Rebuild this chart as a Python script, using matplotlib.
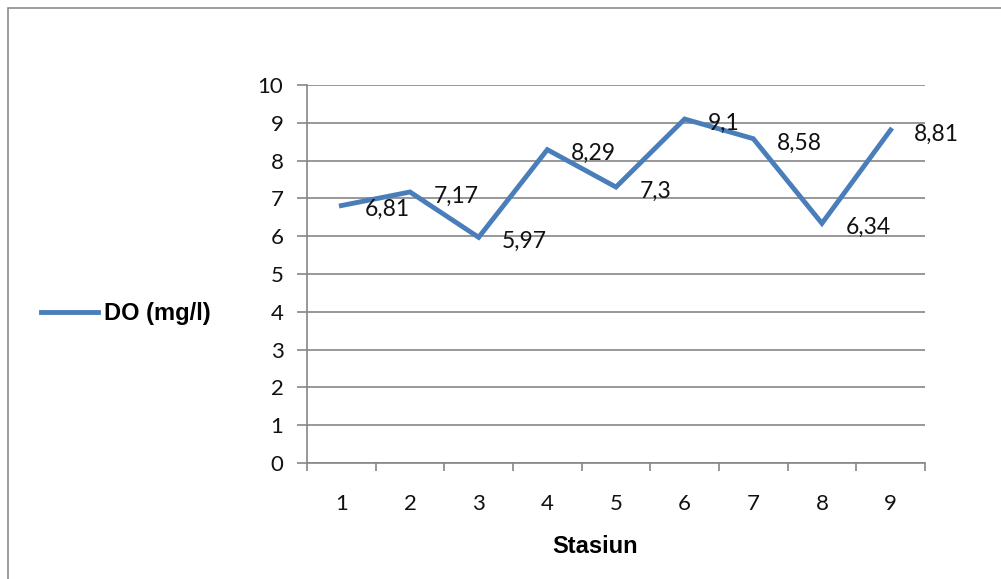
import matplotlib
matplotlib.use('Agg')
import matplotlib.pyplot as plt
from matplotlib.patches import Rectangle

# data DO per stasiun
stasiun = ['1', '2', '3', '4', '5', '6', '7', '8', '9']
do_mg_l = [6.81, 7.17, 5.97, 8.29, 7.3, 9.1, 8.58, 6.34, 8.81]
do_label = ['6,81', '7,17', '5,97', '8,29', '7,3', '9,1', '8,58', '6,34', '8,81']

plt.rcParams['font.family'] = ['Lato', 'DejaVu Sans']

fig = plt.figure(figsize=(10.01, 5.79), dpi=100)
ax = fig.add_axes([0.3067, 0.2003, 0.6173, 0.6529])

# bingkai chart
fig.patches.append(Rectangle((0.008, -0.1), 1.1, 1.086, transform=fig.transFigure,
                             fill=False, edgecolor='#8c8c8c', linewidth=1.2))

x = range(len(stasiun))
line, = ax.plot(x, do_mg_l, color='#4a7ebb', linewidth=3.5, solid_joinstyle='miter',
                label='DO (mg/l)')

for i, (v, s) in enumerate(zip(do_mg_l, do_label)):
    ax.annotate(s, (i, v), xytext=(17, -3), textcoords='offset points',
                ha='left', va='center', fontsize=16.5, color='#111111')

ax.set_xlim(-0.5, len(stasiun) - 0.5)
ax.set_ylim(0, 10)
ax.set_yticks(range(0, 11))
ax.set_xticks(x)
ax.set_xticklabels(stasiun)
ax.set_xticks([i - 0.5 for i in range(len(stasiun) + 1)], minor=True)
ax.tick_params(axis='x', which='major', length=0, pad=22, labelsize=16, labelcolor='#111111')
ax.tick_params(axis='x', which='minor', length=6, color='#868686', width=1.2, direction='out')
ax.tick_params(axis='y', length=7, color='#868686', width=1.2, pad=10, labelsize=16,
               labelcolor='#111111')
ax.grid(axis='y', color='#868686', linewidth=1.2)
ax.set_axisbelow(True)
for sp in ['top', 'right']:
    ax.spines[sp].set_visible(False)
for sp in ['left', 'bottom']:
    ax.spines[sp].set_color('#868686')
    ax.spines[sp].set_linewidth(1.2)

ax.set_xlabel('Stasiun', fontsize=17, fontweight='bold', family='Liberation Sans', labelpad=16)
ax.xaxis.set_label_coords(0.466, -0.19)

fig.legend(handles=[line], loc='center left', bbox_to_anchor=(0.020, 0.458),
           frameon=False, handlelength=2.4, handletextpad=0.25,
           prop={'family': 'Liberation Sans', 'weight': 'bold', 'size': 17})

fig.savefig('out.png', dpi=100)
